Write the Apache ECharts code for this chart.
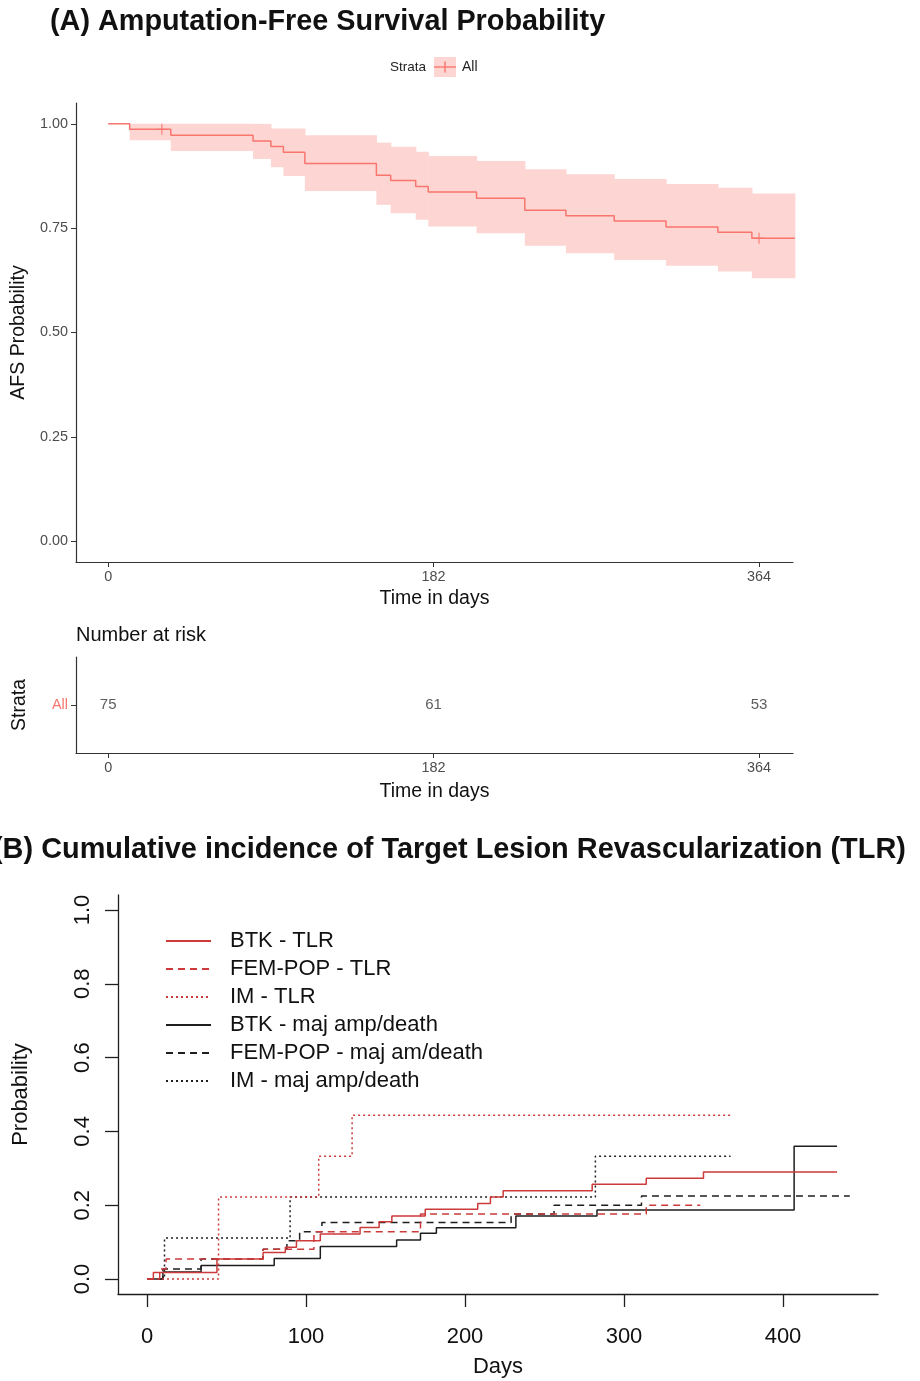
<!DOCTYPE html>
<html>
<head>
<meta charset="utf-8">
<script src="https://cdn.jsdelivr.net/npm/echarts@6/dist/echarts.min.js"></script>
<style>
  html, body { margin: 0; padding: 0; background: #ffffff; }
  #chart { width: 920px; height: 1381px; }
</style>
</head>
<body>
<div id="chart"></div>
<script>
// ---------- Panel A: Kaplan-Meier amputation-free survival ----------
const kmTime  = [0, 12, 35, 81, 91, 98, 110, 150, 158, 172, 179, 206, 233, 256, 283, 312, 341, 360, 384];
const kmSurv  = [1, 0.987, 0.973, 0.959, 0.946, 0.932, 0.905, 0.877, 0.864, 0.850, 0.837, 0.822, 0.793, 0.780, 0.767, 0.753, 0.740, 0.726, 0.726];
const kmUpper = [1, 1, 1, 1, 0.989, 0.989, 0.973, 0.955, 0.945, 0.933, 0.923, 0.911, 0.891, 0.879, 0.868, 0.856, 0.847, 0.833, 0.833];
const kmLower = [1, 0.961, 0.935, 0.916, 0.896, 0.875, 0.839, 0.806, 0.786, 0.770, 0.754, 0.738, 0.708, 0.690, 0.674, 0.660, 0.646, 0.630, 0.630];
const censorTime = [30, 364];
const censorSurv = [0.987, 0.726];
const kmTicksX = [0, 182, 364];
const kmTicksY = [0, 0.25, 0.5, 0.75, 1];

// Number at risk table
const riskTimes  = [0, 182, 364];
const riskCounts = [75, 61, 53];
const riskStrata = ['All'];

// ---------- Panel B: cumulative incidence curves ----------
const btkTlrDays = [0, 4, 44, 73, 87, 94, 109, 134, 146, 154, 175, 208, 216, 224, 280, 314, 350, 434];
const btkTlrP    = [0, 0.018, 0.054, 0.072, 0.086, 0.104, 0.122, 0.140, 0.155, 0.171, 0.189, 0.205, 0.222, 0.239, 0.257, 0.273, 0.290, 0.290];
const fpTlrDays  = [0, 8, 12, 73, 105, 172, 314, 348];
const fpTlrP     = [0, 0.027, 0.054, 0.081, 0.128, 0.176, 0.200, 0.200];
const imTlrDays  = [0, 45, 108, 129, 367];
const imTlrP     = [0, 0.222, 0.333, 0.444, 0.444];
const btkAmpDays = [0, 10, 34, 80, 109, 157, 172, 182, 232, 283, 407, 434];
const btkAmpP    = [0, 0.019, 0.037, 0.056, 0.088, 0.106, 0.124, 0.139, 0.171, 0.187, 0.360, 0.360];
const fpAmpDays  = [0, 10, 34, 73, 88, 96, 110, 229, 256, 311, 442];
const fpAmpP     = [0, 0.027, 0.054, 0.081, 0.104, 0.128, 0.153, 0.176, 0.200, 0.225, 0.225];
const imAmpDays  = [0, 11, 90, 282, 367];
const imAmpP     = [0, 0.111, 0.222, 0.333, 0.333];
const ciTicksX = [0, 100, 200, 300, 400];
const ciTicksY = [0, 0.2, 0.4, 0.6, 0.8, 1.0];

const FONT = "'Liberation Sans', Arial, sans-serif";
const KM_RED = '#F8766D';
const KM_BAND = '#fdd6d3';
const CI_RED = '#cc3a3a';
const CI_BLACK = '#1e1e1e';

const zip = (xs, ys) => xs.map((x, i) => [x, ys[i]]);
const bandData = kmTime.slice(0, -1).map((t, i) => [t, kmTime[i + 1], kmLower[i], kmUpper[i]]);

const ciCurves = [
  { name: 'BTK - TLR',              days: btkTlrDays, p: btkTlrP, color: CI_RED,   dash: 'solid' },
  { name: 'FEM-POP - TLR',          days: fpTlrDays,  p: fpTlrP,  color: CI_RED,   dash: [7, 5] },
  { name: 'IM - TLR',               days: imTlrDays,  p: imTlrP,  color: CI_RED,   dash: [2, 3] },
  { name: 'BTK - maj amp/death',    days: btkAmpDays, p: btkAmpP, color: CI_BLACK, dash: 'solid' },
  { name: 'FEM-POP - maj am/death', days: fpAmpDays,  p: fpAmpP,  color: CI_BLACK, dash: [7, 5] },
  { name: 'IM - maj amp/death',     days: imAmpDays,  p: imAmpP,  color: CI_BLACK, dash: [2, 3] }
];

const axisA = {
  axisLine: { show: true, onZero: false, lineStyle: { color: '#333', width: 1.2 } },
  axisTick: { show: true, length: 5, lineStyle: { color: '#333', width: 1 } },
  splitLine: { show: false },
  nameTextStyle: { fontFamily: FONT, fontSize: 19.5, color: '#111' }
};
const tickLabelA = { fontFamily: FONT, fontSize: 14.4, color: '#4d4d4d' };

const chart = echarts.init(document.getElementById('chart'), null, { renderer: 'canvas' });

const option = {
  backgroundColor: '#ffffff',
  animation: false,
  title: [
    { text: '(A) Amputation-Free Survival Probability', left: 50, top: 8, padding: 0,
      textStyle: { fontFamily: FONT, fontSize: 28.8, fontWeight: 'bold', color: '#111' } },
    { text: 'Number at risk', left: 76, top: 625, padding: 0,
      textStyle: { fontFamily: FONT, fontSize: 20, fontWeight: 'normal', color: '#111' } },
    { text: '(B) Cumulative incidence of Target Lesion Revascularization (TLR)', left: -7, top: 836, padding: 0,
      textStyle: { fontFamily: FONT, fontSize: 28.9, fontWeight: 'bold', color: '#111' } }
  ],
  legend: {
    data: ciCurves.map(c => c.name),
    orient: 'vertical',
    left: 165, top: 927, padding: 0,
    itemWidth: 45, itemHeight: 14, itemGap: 0,
    itemStyle: { opacity: 0 },
    textStyle: { fontFamily: FONT, fontSize: 22, color: '#111', lineHeight: 28, padding: [0, 0, 0, 14] },
    selectedMode: false
  },
  grid: [
    { left: 76, right: 127, top: 103, height: 459 },
    { left: 76, right: 127, top: 657, height: 96 },
    { left: 118, right: 42, top: 895, height: 399 }
  ],
  xAxis: [
    Object.assign({}, axisA, {
      gridIndex: 0, type: 'value', min: -18, max: 383,
      name: 'Time in days', nameLocation: 'middle', nameGap: 27,
      axisTick: Object.assign({}, axisA.axisTick, { customValues: kmTicksX }),
      axisLabel: Object.assign({}, tickLabelA, { margin: 8, customValues: kmTicksX })
    }),
    Object.assign({}, axisA, {
      gridIndex: 1, type: 'value', min: -18, max: 383,
      name: 'Time in days', nameLocation: 'middle', nameGap: 29,
      axisTick: Object.assign({}, axisA.axisTick, { customValues: riskTimes }),
      axisLabel: Object.assign({}, tickLabelA, { margin: 8, customValues: riskTimes })
    }),
    {
      gridIndex: 2, type: 'value', min: -18.24, max: 459.75,
      name: 'Days', nameLocation: 'middle', nameGap: 62,
      nameTextStyle: { fontFamily: FONT, fontSize: 22, color: '#111' },
      axisLine: { show: true, onZero: false, lineStyle: { color: CI_BLACK, width: 1.3 } },
      axisTick: { show: true, length: 13, lineStyle: { color: CI_BLACK, width: 1.3 }, customValues: ciTicksX },
      axisLabel: { fontFamily: FONT, fontSize: 22, color: '#111', margin: 32, customValues: ciTicksX },
      splitLine: { show: false }
    }
  ],
  yAxis: [
    Object.assign({}, axisA, {
      gridIndex: 0, type: 'value', min: -0.05, max: 1.05,
      name: 'AFS Probability', nameLocation: 'middle', nameGap: 46,
      axisTick: Object.assign({}, axisA.axisTick, { customValues: kmTicksY }),
      axisLabel: Object.assign({}, tickLabelA, { margin: 8, customValues: kmTicksY,
        formatter: v => v.toFixed(2) })
    }),
    Object.assign({}, axisA, {
      gridIndex: 1, type: 'category', data: riskStrata,
      name: 'Strata', nameLocation: 'middle', nameGap: 46,
      axisTick: Object.assign({}, axisA.axisTick, { alignWithLabel: true }),
      axisLabel: Object.assign({}, tickLabelA, { color: KM_RED, margin: 8 })
    }),
    {
      gridIndex: 2, type: 'value', min: -0.0405, max: 1.0405,
      name: 'Probability', nameLocation: 'middle', nameGap: 86,
      nameTextStyle: { fontFamily: FONT, fontSize: 22, color: '#111' },
      axisLine: { show: true, onZero: false, lineStyle: { color: CI_BLACK, width: 1.3 } },
      axisTick: { show: true, length: 13, lineStyle: { color: CI_BLACK, width: 1.3 }, customValues: ciTicksY },
      axisLabel: { fontFamily: FONT, fontSize: 22, color: '#111', margin: 24, rotate: 90,
        customValues: ciTicksY, formatter: v => v.toFixed(1) },
      splitLine: { show: false }
    }
  ],
  graphic: [
    // Strata key for the survival panel
    { type: 'text', silent: true,
      style: { text: 'Strata', x: 426, y: 67, align: 'right', verticalAlign: 'middle',
               font: "13.5px 'Liberation Sans', Arial, sans-serif", fill: '#222' } },
    { type: 'rect', silent: true, shape: { x: 434, y: 57, width: 22, height: 20 }, style: { fill: KM_BAND } },
    { type: 'line', silent: true, shape: { x1: 434, y1: 67, x2: 456, y2: 67 }, style: { stroke: KM_RED, lineWidth: 1.4 } },
    { type: 'line', silent: true, shape: { x1: 445, y1: 61.5, x2: 445, y2: 72.5 }, style: { stroke: KM_RED, lineWidth: 1.4 } },
    { type: 'text', silent: true,
      style: { text: 'All', x: 462, y: 67, align: 'left', verticalAlign: 'middle',
               font: "14px 'Liberation Sans', Arial, sans-serif", fill: '#222' } }
  ],
  series: [
    {
      name: 'CI band', type: 'custom', xAxisIndex: 0, yAxisIndex: 0, silent: true, z: 1,
      data: bandData,
      encode: { x: [0, 1], y: [2, 3] },
      renderItem: function (params, api) {
        const a = api.coord([api.value(0), api.value(3)]);
        const b = api.coord([api.value(1), api.value(2)]);
        return { type: 'rect',
                 shape: { x: a[0], y: a[1], width: b[0] - a[0] + 0.6, height: b[1] - a[1] },
                 style: { fill: KM_BAND } };
      }
    },
    {
      name: 'All', type: 'line', xAxisIndex: 0, yAxisIndex: 0, step: 'end', z: 3,
      data: zip(kmTime, kmSurv), symbol: 'none',
      lineStyle: { color: KM_RED, width: 1.5 }
    },
    {
      name: 'Censored', type: 'scatter', xAxisIndex: 0, yAxisIndex: 0, z: 4,
      data: zip(censorTime, censorSurv),
      symbol: 'path://M4.4,0h1.2v10h-1.2zM0,4.4h10v1.2h-10z', symbolSize: 11,
      itemStyle: { color: KM_RED }
    },
    {
      name: 'At risk', type: 'scatter', xAxisIndex: 1, yAxisIndex: 1,
      data: riskTimes.map((t, i) => [t, 0, riskCounts[i]]),
      symbolSize: 2, itemStyle: { color: 'rgba(255,255,255,0)' },
      label: { show: true, position: 'inside', formatter: p => String(p.value[2]),
               fontFamily: FONT, fontSize: 15, color: '#333' }
    }
  ].concat(ciCurves.slice().reverse().map(c => ({
    name: c.name, type: 'line', xAxisIndex: 2, yAxisIndex: 2, step: 'end',
    data: zip(c.days, c.p), symbol: 'none',
    z: c.color === CI_RED ? 4 : 3,
    lineStyle: { color: c.color, width: 1.5, type: c.dash },
    itemStyle: { color: c.color }
  })))
};

chart.setOption(option);
</script>
</body>
</html>
